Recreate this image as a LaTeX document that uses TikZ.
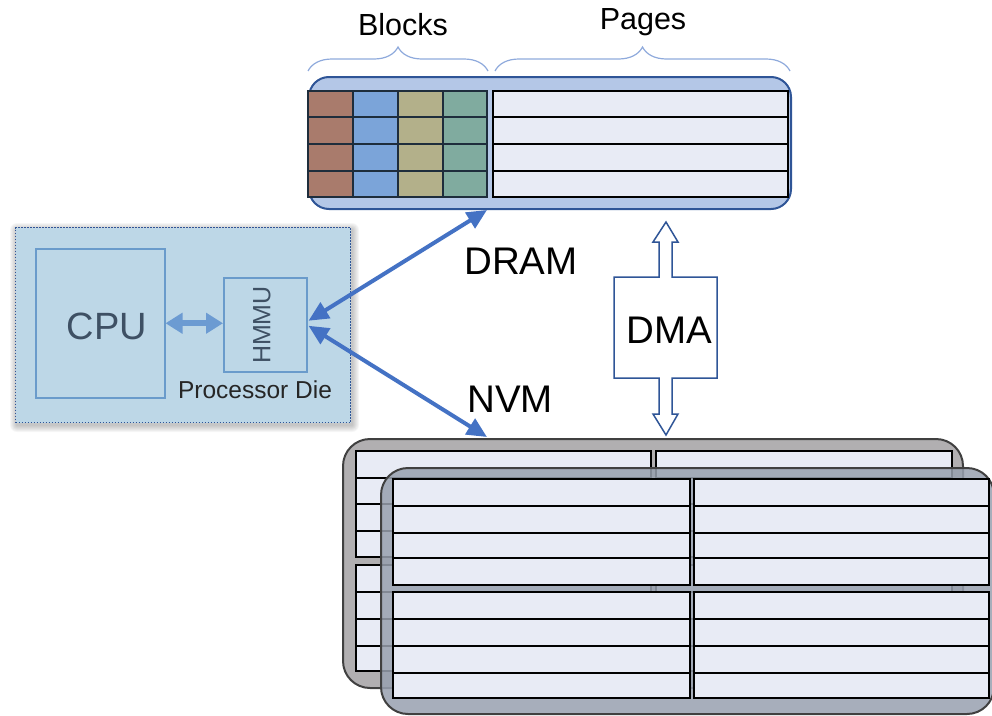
\documentclass[tikz,border=0pt]{standalone}
\usepackage{fontspec}
\setmainfont{Liberation Sans}
\usetikzlibrary{arrows.meta,decorations.pathreplacing}

\definecolor{diefill}{RGB}{189,215,231}
\definecolor{dieborder}{RGB}{47,85,151}
\definecolor{cpuborder}{RGB}{106,155,203}
\definecolor{slate}{RGB}{62,80,100}
\definecolor{linkblue}{RGB}{68,114,196}
\definecolor{busblue}{RGB}{108,155,210}
\definecolor{dramfill}{RGB}{180,199,231}
\definecolor{dramborder}{RGB}{47,85,151}
\definecolor{cellfill}{RGB}{232,235,245}
\definecolor{blkA}{RGB}{169,123,108}
\definecolor{blkB}{RGB}{123,164,217}
\definecolor{blkC}{RGB}{179,176,138}
\definecolor{blkD}{RGB}{128,171,159}
\definecolor{blkline}{RGB}{30,45,60}
\definecolor{bracecol}{RGB}{143,170,220}
\definecolor{backgray}{RGB}{177,175,177}
\definecolor{frontgray}{RGB}{152,160,175}
\definecolor{edgegray}{RGB}{64,64,64}

\tikzset{
  lbl/.style={inner sep=0pt, text=black},
  bigtxt/.style={lbl, font=\fontsize{38.5}{44}\selectfont},
  midtxt/.style={lbl, font=\fontsize{30.5}{36}\selectfont},
  pagecell/.style={fill=cellfill, draw=black, line width=2pt},
  blkcell/.style={draw=blkline, line width=1.6pt},
  memlink/.style={draw=linkblue, line width=4pt,
    {Triangle[length=20pt,width=18pt]}-{Triangle[length=20pt,width=18pt]}},
  buslink/.style={draw=busblue, line width=6pt,
    {Triangle[length=17pt,width=20pt]}-{Triangle[length=17pt,width=20pt]}},
  bracestyle/.style={draw=bracecol, line width=1.2pt, decorate,
    decoration={brace, amplitude=24pt, aspect=0.5}},
  boxnode/.style={inner sep=0pt, anchor=north west},
}

\begin{document}
\begin{tikzpicture}[x=1pt,y=-1pt]
\useasboundingbox (0,0) rectangle (992,715);

% ---------- processor die ----------
\foreach \i in {1,...,7}
  \fill[black, opacity=0.035, rounded corners=\i pt]
    (15-\i+2, 227-\i+3) rectangle (350+\i+2, 422+\i+3);
\node[boxnode, fill=diefill, draw=dieborder, line width=1.3pt,
      dash pattern=on 1.3pt off 1.7pt,
      minimum width=335pt, minimum height=195pt] (die) at (15,227) {};
\node[boxnode, draw=cpuborder, line width=1.5pt,
      minimum width=129pt, minimum height=149pt] (cpu) at (35,248) {};
\node[lbl, text=slate, font=\fontsize{38}{44}\selectfont] (cputext) at (107,326) {CPU};
\node[boxnode, draw=cpuborder, line width=1.5pt,
      minimum width=83pt, minimum height=94pt] (hmmu) at (223,277) {};
\node[lbl, text=slate, rotate=90, font=\fontsize{25}{30}\selectfont] (hmmutext) at (262,325) {HMMU};
\node[lbl, text=black!85, font=\fontsize{24.5}{29}\selectfont] (dietext) at (255,390) {Processor Die};

\draw[buslink] (cpu.east) -- (cpu.east -| hmmu.west);

% ---------- DRAM ----------
\node[boxnode, fill=dramfill, draw=dramborder, line width=2pt, rounded corners=20pt,
      minimum width=482pt, minimum height=132pt] (dram) at (308,76) {};
\foreach \y/\yy in {91/117,117/144,144/171,171/197}{
  \fill[blkA] (308,\y) rectangle (353,\yy);
  \fill[blkB] (353,\y) rectangle (398,\yy);
  \fill[blkC] (398,\y) rectangle (443,\yy);
  \fill[blkD] (443,\y) rectangle (487,\yy);
  \draw[blkcell] (308,\y) rectangle (353,\yy);
  \draw[blkcell] (353,\y) rectangle (398,\yy);
  \draw[blkcell] (398,\y) rectangle (443,\yy);
  \draw[blkcell] (443,\y) rectangle (487,\yy);
  \draw[pagecell] (493,\y) rectangle (788,\yy);
}

\draw[bracestyle] (308,71) -- (488,71);
\draw[bracestyle] (495,71) -- (790,71);
\node[midtxt] (blocks) at (403,25) {Blocks};
\node[midtxt] (pages) at (643,22) {Pages};

% ---------- NVM (two stacked modules) ----------
\node[boxnode, fill=backgray, draw=edgegray, line width=2pt, rounded corners=27pt,
      minimum width=620pt, minimum height=249pt] (nvmback) at (342,438) {};
\foreach \xa/\xb in {356/651,656/952}{
  \foreach \y/\yy in {451/478,478/504,504/531,531/557,565/592,592/619,619/646,646/671}
    \draw[pagecell] (\xa,\y) rectangle (\xb,\yy);
}
\node[boxnode, fill=frontgray, fill opacity=0.85, draw=edgegray, line width=2pt,
      rounded corners=27pt, minimum width=613pt, minimum height=246pt] (nvmfront) at (380,467) {};
\foreach \xa/\xb in {393/690,694/989}{
  \foreach \y/\yy in {479/506,506/533,533/558,558/585,592/619,619/646,646/673,673/698}
    \draw[pagecell] (\xa,\y) rectangle (\xb,\yy);
}

% ---------- links ----------
\coordinate (dramport) at (487,210);
\coordinate (nvmport) at (487,437);
\draw[memlink] ([xshift=1pt,yshift=4pt]hmmu.east) -- (dramport);
\draw[memlink] ([xshift=1pt,yshift=-1pt]hmmu.east) -- (nvmport);
\node[bigtxt] (dramlbl) at (521,261) {DRAM};
\node[bigtxt] (nvmlbl) at (510,399) {NVM};

% ---------- DMA engine ----------
\draw[draw=dramborder, line width=1.5pt, fill=white, line join=miter]
  (666,222) -- (678,242) -- (672,242) -- (672,277) -- (717,277) -- (717,378)
  -- (672,378) -- (672,414) -- (678,414) -- (666,435) -- (653,414) -- (659,414)
  -- (659,378) -- (614,378) -- (614,277) -- (659,277) -- (659,242) -- (653,242) -- cycle;
\node[bigtxt] (dma) at (669,330) {DMA};

\end{tikzpicture}
\end{document}
